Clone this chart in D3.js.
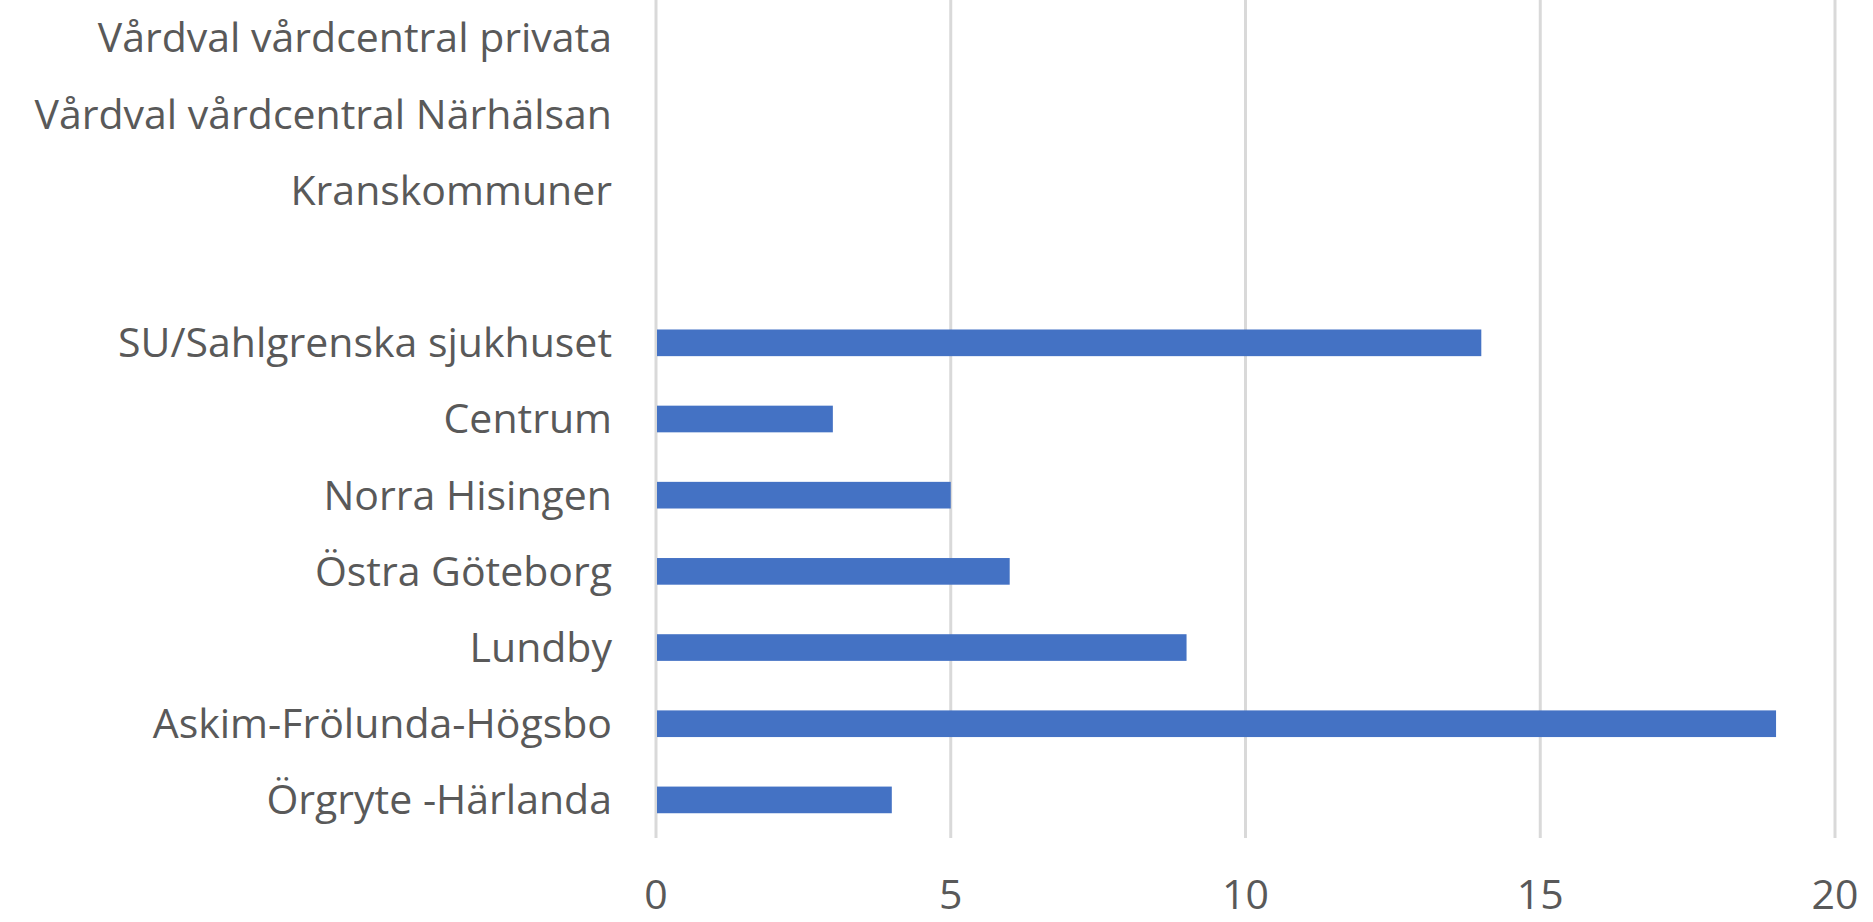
<!DOCTYPE html>
<html lang="sv">
<head>
<meta charset="UTF-8">
<title>Antal per enhet</title>
<script src="https://d3js.org/d3.v7.min.js"></script>
<style>
  html, body { margin: 0; padding: 0; background: #fff; }
  svg { display: block; }
  text { font-family: "Open Sans", sans-serif; fill: #595959; }
</style>
</head>
<body>
<div id="chart"></div>
<script>
// data, top to bottom as in the chart ("" = empty spacer row)
const categories = [
  "Vårdval vårdcentral privata",
  "Vårdval vårdcentral Närhälsan",
  "Kranskommuner",
  "",
  "SU/Sahlgrenska sjukhuset",
  "Centrum",
  "Norra Hisingen",
  "Östra Göteborg",
  "Lundby",
  "Askim-Frölunda-Högsbo",
  "Örgryte -Härlanda"
];
const values = [0, 0, 0, null, 14, 3, 5, 6, 9, 19, 4];
const xTicks = [0, 5, 10, 15, 20];

const W = 1873, H = 922;
const margin = { top: 0, right: 38, bottom: 84, left: 656 };
const fontSize = 41;

const svg = d3.select("#chart").append("svg")
  .attr("width", W)
  .attr("height", H);

const x = d3.scaleLinear()
  .domain([0, 20])
  .range([margin.left, W - margin.right]);

const y = d3.scaleBand()
  .domain(categories.map((c, i) => i))
  .range([margin.top, H - margin.bottom])
  .padding(0);

const barH = y.bandwidth() * 0.35;

// gridlines
svg.append("g")
  .selectAll("line")
  .data(xTicks)
  .join("line")
  .attr("x1", d => x(d))
  .attr("x2", d => x(d))
  .attr("y1", margin.top)
  .attr("y2", H - margin.bottom)
  .attr("stroke", "#d9d9d9")
  .attr("stroke-width", 3);

// bars
svg.append("g")
  .selectAll("rect")
  .data(values.map((v, i) => ({ i, v })).filter(d => d.v))
  .join("rect")
  .attr("x", x(0) + 1)
  .attr("y", d => y(d.i) + (y.bandwidth() - barH) / 2)
  .attr("width", d => x(d.v) - x(0) - 1)
  .attr("height", barH)
  .attr("fill", "#4472c4");

// category labels
svg.append("g")
  .selectAll("text")
  .data(categories)
  .join("text")
  .attr("x", margin.left - 44)
  .attr("y", (d, i) => y(i) + y.bandwidth() / 2)
  .attr("dy", "0.35em")
  .attr("text-anchor", "end")
  .style("font-size", fontSize + "px")
  .text(d => d);

// x tick labels
svg.append("g")
  .selectAll("text")
  .data(xTicks)
  .join("text")
  .attr("x", d => x(d))
  .attr("y", 909)
  .attr("text-anchor", "middle")
  .style("font-size", fontSize + "px")
  .text(d => d);
</script>
</body>
</html>
